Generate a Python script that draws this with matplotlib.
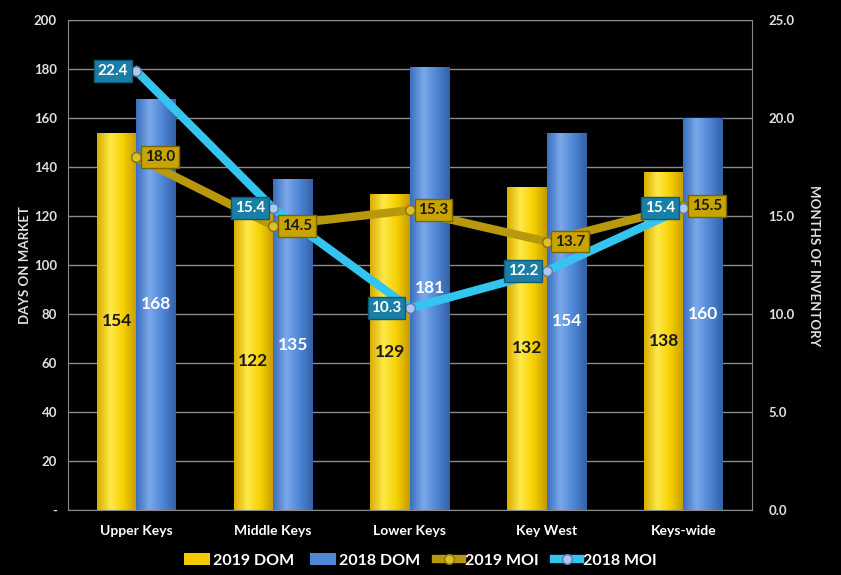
import matplotlib
matplotlib.use("Agg")
import matplotlib.pyplot as plt
import numpy as np
from matplotlib.colors import LinearSegmentedColormap

plt.rcParams['font.family'] = ['Lato', 'DejaVu Sans']

regions = ['Upper Keys', 'Middle Keys', 'Lower Keys', 'Key West', 'Keys-wide']
dom_2019 = [154, 122, 129, 132, 138]
dom_2018 = [168, 135, 181, 154, 160]
moi_2019 = [18.0, 14.5, 15.3, 13.7, 15.5]
moi_2018 = [22.4, 15.4, 10.3, 12.2, 15.4]

dom_ticks = [0, 20, 40, 60, 80, 100, 120, 140, 160, 180, 200]
dom_tick_labels = ['-'] + [str(t) for t in dom_ticks[1:]]
moi_ticks = [0, 5, 10, 15, 20, 25]

gold = '#f2cc00'
blue = '#4f86d6'
moi19_col = '#b8980c'
moi18_col = '#33c4ef'

fig = plt.figure(figsize=(8.41, 5.75), dpi=100, facecolor='black')
ax = fig.add_axes([0.081, 0.113, 0.813, 0.852])
ax.set_facecolor('black')

x = np.arange(len(regions))
w = 0.29


def shade_bars(bars, cmap):
    # horizontal gradient clipped to each bar for a rounded look
    grad = np.linspace(0, 1, 64).reshape(1, -1)
    for b in bars:
        x0, y0 = b.get_x(), b.get_y()
        im = ax.imshow(grad, cmap=cmap, aspect='auto', zorder=2,
                       extent=[x0, x0 + b.get_width(), y0, y0 + b.get_height()])
        im.set_clip_path(b)


gold_cmap = LinearSegmentedColormap.from_list('g', ['#d9ad00', '#ffe94a', '#f5d000', '#c89a00'])
blue_cmap = LinearSegmentedColormap.from_list('b', ['#3a6fbf', '#7aa8ea', '#4f86d6', '#3461a8'])

b19 = ax.bar(x - w / 2, dom_2019, w, color=gold, zorder=2, label='2019 DOM')
b18 = ax.bar(x + w / 2, dom_2018, w, color=blue, zorder=2, label='2018 DOM')
shade_bars(b19, gold_cmap)
shade_bars(b18, blue_cmap)

# value labels centred inside each bar
for i in range(len(regions)):
    ax.text(x[i] - w / 2, dom_2019[i] / 2, str(dom_2019[i]), ha='center', va='center',
            fontsize=12.5, fontweight='bold', color='#1a1a1a', zorder=5)
    ax.text(x[i] + w / 2, dom_2018[i] / 2, str(dom_2018[i]), ha='center', va='center',
            fontsize=12.5, fontweight='bold', color='white', zorder=5)

ax.set_xlim(-0.5, len(regions) - 0.5)
ax.set_ylim(0, 200)
ax.set_yticks(dom_ticks)
ax.set_yticklabels(dom_tick_labels)
ax.set_xticks(x)
ax.set_xticklabels(regions)
ax.grid(axis='y', color='#8a8a8a', linewidth=1, zorder=0)
ax.set_axisbelow(True)
for s in ax.spines.values():
    s.set_color('#8a8a8a')
ax.tick_params(length=0, colors='#e0e0e0', labelsize=9.5, pad=8)
for lbl in ax.get_xticklabels() + ax.get_yticklabels():
    lbl.set_fontweight('bold')
ax.tick_params(axis='x', labelsize=10, colors='white', pad=11)
ax.set_ylabel('DAYS ON MARKET', color='#e0e0e0', fontsize=9.5, fontweight='bold', labelpad=2)

ax2 = ax.twinx()
ax2.set_ylim(0, 25)
ax2.set_yticks(moi_ticks)
ax2.set_yticklabels([f'{t:.1f}' for t in moi_ticks])
ax2.tick_params(length=0, colors='#e0e0e0', labelsize=9.5, pad=12)
for lbl in ax2.get_yticklabels():
    lbl.set_fontweight('bold')
for s in ax2.spines.values():
    s.set_visible(False)
ax2.set_ylabel('MONTHS OF INVENTORY', color='#e0e0e0', fontsize=9.5, fontweight='bold',
               rotation=270, labelpad=18)

l19, = ax2.plot(x, moi_2019, color=moi19_col, linewidth=6, marker='o', markersize=7,
                markerfacecolor='#d8c030', markeredgecolor='#8a7000', zorder=3, label='2019 MOI')
l18, = ax2.plot(x, moi_2018, color=moi18_col, linewidth=6, marker='o', markersize=7,
                markerfacecolor='#b0c8f0', markeredgecolor='#5a7ab0', zorder=4, label='2018 MOI')

for i in range(len(regions)):
    ax2.annotate(f'{moi_2019[i]:.1f}', (x[i], moi_2019[i]), xytext=(6, 0),
                 textcoords='offset points', ha='left', va='center', fontsize=11,
                 fontweight='bold', color='#1a1a1a', zorder=6,
                 bbox=dict(boxstyle='square,pad=0.25', facecolor='#c8a400', edgecolor='#7a6400'))
    ax2.annotate(f'{moi_2018[i]:.1f}', (x[i], moi_2018[i]), xytext=(-6, 0),
                 textcoords='offset points', ha='right', va='center', fontsize=11,
                 fontweight='bold', color='white', zorder=6,
                 bbox=dict(boxstyle='square,pad=0.25', facecolor='#1a7fa6', edgecolor='#0f5a78'))

handles = [b19, b18, l19, l18]
leg = fig.legend(handles, [h.get_label() for h in handles], loc='lower center',
                 bbox_to_anchor=(0.5, -0.012), ncol=4, frameon=False,
                 prop={'size': 11.5, 'weight': 'bold'},
                 handlelength=1.6, handletextpad=0.2, columnspacing=1.0)
for t in leg.get_texts():
    t.set_color('white')

fig.savefig('out.png', dpi=100, facecolor='black')
